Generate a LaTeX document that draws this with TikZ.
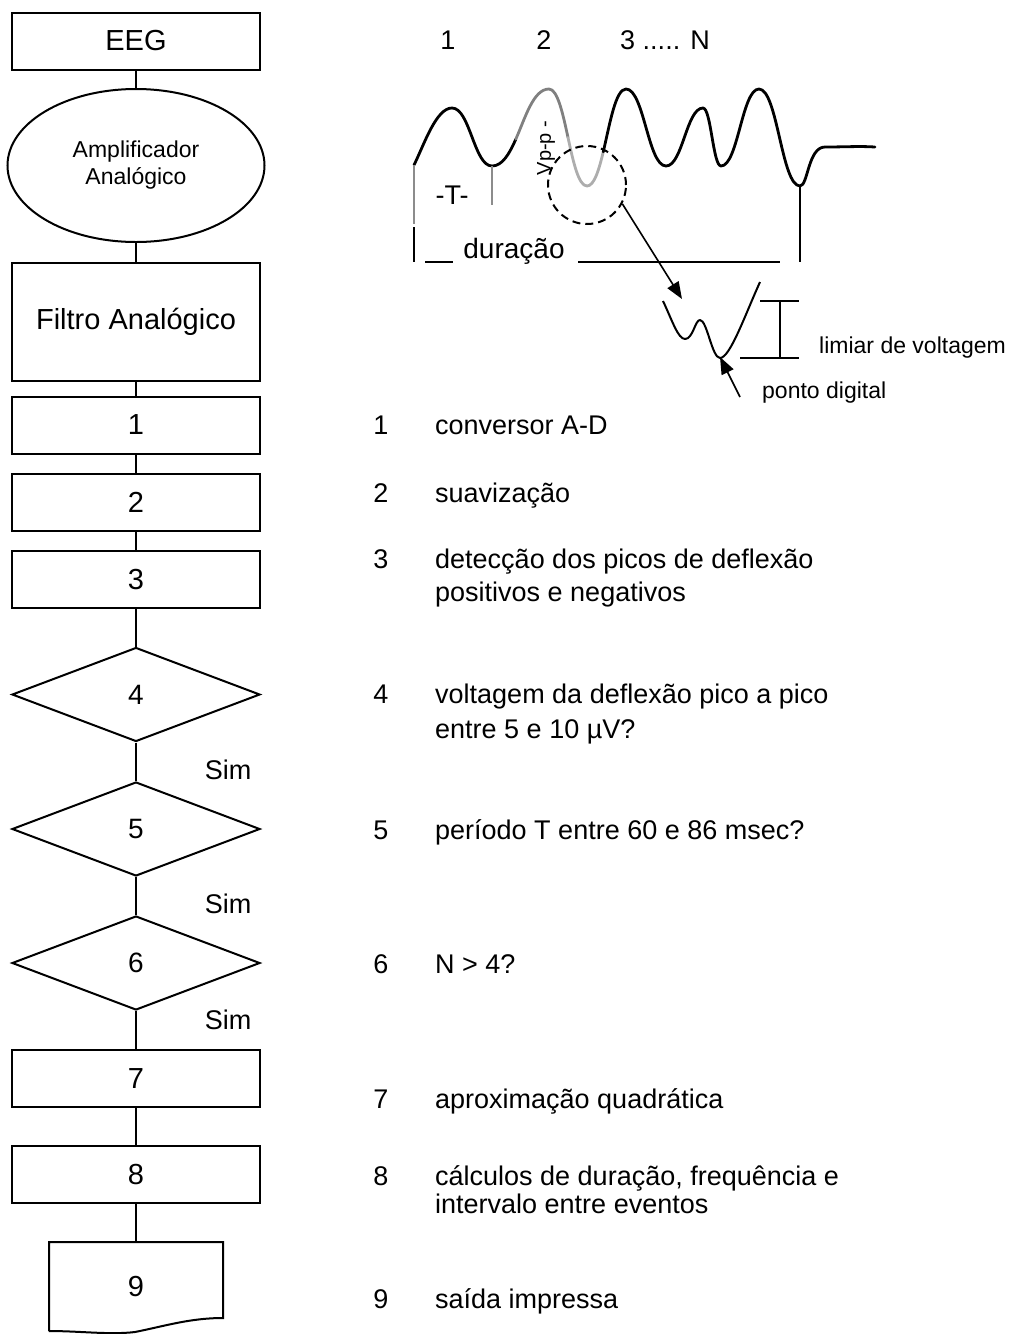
\documentclass[tikz,border=0pt]{standalone}
\usepackage{fontspec}
\setmainfont{Liberation Sans}
\usetikzlibrary{shapes.geometric,arrows.meta}
\begin{document}
\begin{tikzpicture}[x=1pt,y=-1pt,
  lbl/.style={font=\fontsize{27}{32}\selectfont, inner sep=0},
  small/.style={font=\fontsize{23}{27}\selectfont, inner sep=0},
  num/.style={lbl, anchor=base},
  desc/.style={lbl, anchor=base west},
  box/.style={draw, line width=2pt, minimum width=248pt, minimum height=57pt, inner sep=0, font=\fontsize{29}{34}\selectfont},
  dec/.style={draw, diamond, line width=2pt, minimum width=248pt, minimum height=94pt, inner sep=0, font=\fontsize{28}{34}\selectfont},
  conn/.style={line width=2pt},
  wave/.style={line width=2.8pt, line cap=round, line join=round},
  tiparrow/.style={line width=1.6pt, -{Triangle[length=17pt,width=13pt]}},
]
\useasboundingbox (0,0) rectangle (1015,1334);

% ---------- flowchart ----------
\node[box] (eeg) at (136,41) {EEG};
\node[draw, ellipse, line width=2pt, minimum width=257pt, minimum height=153pt, inner sep=0,
      align=center, font=\fontsize{23}{27}\selectfont] (amp) at (136,165.5) {Amplificador\\Analógico};
\node[box, minimum height=118pt] (filt) at (136,322) {Filtro Analógico};
\node[box] (b1) at (136,425) {1};
\node[box] (b2) at (136,502.5) {2};
\node[box] (b3) at (136,579.5) {3};
\node[dec] (d4) at (136,694.5) {4};
\node[dec] (d5) at (136,829) {5};
\node[dec] (d6) at (136,963) {6};
\node[box] (b7) at (136,1078.5) {7};
\node[box] (b8) at (136,1174.5) {8};
\node[inner sep=0, font=\fontsize{29}{34}\selectfont, minimum width=174pt, minimum height=90pt] (b9) at (136,1287) {9};
\draw[conn, line join=miter] (49,1331) -- (49,1242) -- (223,1242) -- (223,1318)
  .. controls (190,1318) and (165,1326) .. (135,1332)
  .. controls (110,1335) and (80,1331) .. (49,1331);

\draw[conn] (eeg.south) -- (amp.north);
\draw[conn] (amp.south) -- (filt.north);
\draw[conn] (filt.south) -- (b1.north);
\draw[conn] (b1.south) -- (b2.north);
\draw[conn] (b2.south) -- (b3.north);
\draw[conn] (b3.south) -- (d4.north);
\draw[conn] (d4.south) -- (d5.north);
\draw[conn] (d5.south) -- (d6.north);
\draw[conn] (d6.south) -- (b7.north);
\draw[conn] (b7.south) -- (b8.north);
\draw[conn] (b8.south) -- (b9.north);

\node[num] (sim1) at (228,779) {Sim};
\node[num] (sim2) at (228,913) {Sim};
\node[num] (sim3) at (228,1029) {Sim};

% ---------- legend ----------
\node[num] (n1) at (381,434) {1};  \node[desc] (t1) at (435,434) {conversor A-D};
\node[num] (n2) at (381,502) {2};  \node[desc] (t2) at (435,502) {suavização};
\node[num] (n3) at (381,568) {3};  \node[desc] (t3a) at (435,568) {detecção dos picos de deflexão};
                                   \node[desc] (t3b) at (435,601) {positivos e negativos};
\node[num] (n4) at (381,703) {4};  \node[desc] (t4a) at (435,703) {voltagem da deflexão pico a pico};
                                   \node[desc] (t4b) at (435,738) {entre 5 e 10 µV?};
\node[num] (n5) at (381,839) {5};  \node[desc] (t5) at (435,839) {período T entre 60 e 86 msec?};
\node[num] (n6) at (381,973) {6};  \node[desc] (t6) at (435,973) {N > 4?};
\node[num] (n7) at (381,1108) {7}; \node[desc] (t7) at (435,1108) {aproximação quadrática};
\node[num] (n8) at (381,1185) {8}; \node[desc] (t8a) at (435,1185) {cálculos de duração, frequência e};
                                   \node[desc] (t8b) at (435,1213) {intervalo entre eventos};
\node[num] (n9) at (381,1308) {9}; \node[desc] (t9) at (435,1308) {saída impressa};

% ---------- waveform ----------
\node[num] (w1) at (448,49) {1};
\node[num] (w2) at (544,49) {2};
\node[num] (w3) at (665,49) {3 ..... N};

\draw[wave] (414,165) .. controls (424,145) and (436,108) .. (452,108)
  .. controls (470,108) and (474,166) .. (492,166)
  .. controls (502.4,166) and (509.4,153.7) .. (515.8,139.2);
\draw[wave, black!50] (515.8,139.2) .. controls (525.4,117.5) and (533.4,89) .. (549,89)
  .. controls (557.5,89) and (562.75,113.25) .. (568,137.5);
\draw[wave, black!32] (568,137.5) .. controls (573.25,161.75) and (578.5,186) .. (587,186)
  .. controls (594,186) and (598.84,170.48) .. (603.25,151.86);
\draw[wave] (603.25,151.86) .. controls (609.86,123.92) and (615.5,89) .. (626,89)
  .. controls (644,89) and (648,166) .. (666,166)
  .. controls (682.6,166) and (686.4,108) .. (703,108)
  .. controls (711,108) and (713,166) .. (721,166)
  .. controls (738,166) and (742,89) .. (759,89)
  .. controls (777.5,89) and (781.5,186) .. (800,186)
  .. controls (808,186) and (808,147) .. (825,147)
  .. controls (845,147) and (860,146) .. (875,147);

\draw[line width=2pt, black!45] (414,165) -- (414,224);
\draw[line width=2pt] (414,227) -- (414,262);
\draw[line width=2pt, black!45] (492,166) -- (492,205);
\draw[line width=2pt] (800,186) -- (800,262);

\node[lbl] (tlab) at (452,195) {-T-};
\node[inner sep=0, font=\fontsize{20}{24}\selectfont, rotate=90] (vpp) at (546,148) {Vp-p -};

\draw[line width=2pt] (425,262) -- (453,262);
\node[num, font=\fontsize{28}{32}\selectfont] (dur) at (514,258) {duração};
\draw[line width=2pt] (578,262) -- (780,262);

\node[circle, draw, line width=2pt, dash pattern=on 8pt off 5pt, minimum size=78pt, inner sep=0] (zc) at (587,185) {};
\coordinate (tip1) at (682,299);
\draw[tiparrow] (zc.-28) -- (tip1);

% ---------- inset ----------
\draw[line width=2pt, line join=round] (663,301) .. controls (672,320) and (678,339) .. (685,339)
  .. controls (693,339) and (695,320) .. (700,320)
  .. controls (707,320) and (712,358) .. (720,358)
  .. controls (730,358) and (745,315) .. (760,282);
\draw[line width=2pt] (760,301) -- (799,301);
\draw[line width=2pt] (740,358) -- (799,358);
\draw[line width=2pt] (780,301) -- (780,358);
\node[small, anchor=base west] (lim) at (819,353) {limiar de voltagem};
\coordinate (tip2) at (720,357);
\coordinate (ptail) at (740,397);
\draw[tiparrow] (ptail) -- (tip2);
\node[small, anchor=base west] (pd) at (762,398) {ponto digital};
\end{tikzpicture}
\end{document}
